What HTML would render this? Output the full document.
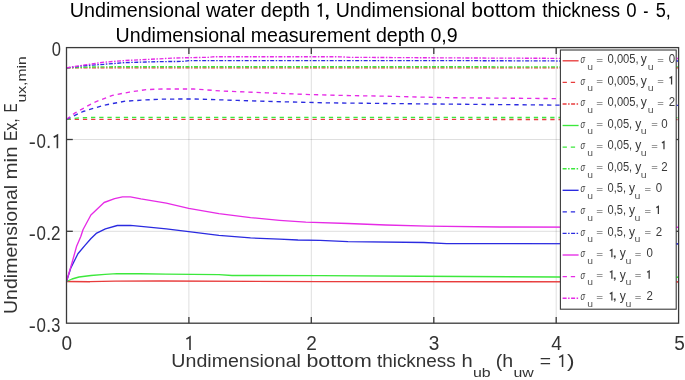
<!DOCTYPE html>
<html><head><meta charset="utf-8"><style>
html,body{margin:0;padding:0;background:#fff;width:685px;height:380px;overflow:hidden}
svg{display:block;font-family:"Liberation Sans",sans-serif;font-kerning:none;font-variant-ligatures:none;will-change:transform}
</style></head><body>
<svg width="685" height="380" viewBox="0 0 685 380">
<rect x="0" y="0" width="685" height="380" fill="#fff"/>
<line x1="188.9" y1="47.6" x2="188.9" y2="323.2" stroke="#262626" stroke-opacity="0.15" stroke-width="1"/>
<line x1="311.3" y1="47.6" x2="311.3" y2="323.2" stroke="#262626" stroke-opacity="0.15" stroke-width="1"/>
<line x1="433.8" y1="47.6" x2="433.8" y2="323.2" stroke="#262626" stroke-opacity="0.15" stroke-width="1"/>
<line x1="556.2" y1="47.6" x2="556.2" y2="323.2" stroke="#262626" stroke-opacity="0.15" stroke-width="1"/>
<line x1="66.5" y1="139.5" x2="678.6" y2="139.5" stroke="#262626" stroke-opacity="0.15" stroke-width="1"/>
<line x1="66.5" y1="231.3" x2="678.6" y2="231.3" stroke="#262626" stroke-opacity="0.15" stroke-width="1"/>
<polyline points="66.5,281.5 90.0,281.7 115.0,281.1 160.0,281.0 320.0,281.6 679.0,281.8" fill="none" stroke="#e83c3c" stroke-width="1.35" stroke-linejoin="round"  />
<polyline points="66.5,281.5 72.0,279.0 79.0,277.0 91.0,275.5 105.0,274.4 117.0,273.7 140.0,273.7 166.0,274.2 219.0,274.7 232.0,275.5 320.0,275.6 420.0,276.2 558.0,277.0 679.0,277.3" fill="none" stroke="#3ce83c" stroke-width="1.35" stroke-linejoin="round"  />
<polyline points="66.5,281.5 70.7,268.3 77.9,253.8 85.2,245.1 91.0,238.5 96.2,233.4 105.4,228.8 117.3,225.5 130.4,225.3 140.9,226.4 166.3,228.9 188.7,231.6 218.9,235.3 250.5,237.9 279.5,239.2 297.9,240.0 320.0,240.3 348.0,241.7 423.9,242.5 446.6,243.6 679.0,243.8" fill="none" stroke="#2b2be0" stroke-width="1.35" stroke-linejoin="round"  />
<polyline points="66.5,281.5 72.1,262.5 76.5,246.6 80.8,236.5 83.1,229.5 90.9,215.0 104.1,202.5 114.6,198.6 122.5,196.8 130.4,196.8 140.9,198.9 166.3,203.2 188.7,208.4 218.9,213.7 250.5,217.6 279.5,220.3 305.8,222.2 348.0,223.5 385.9,225.0 427.6,226.2 499.8,227.0 679.0,227.4" fill="none" stroke="#e62be6" stroke-width="1.35" stroke-linejoin="round"  />
<polyline points="66.5,119.3 300.0,119.4 679.0,119.5" fill="none" stroke="#e83c3c" stroke-width="1.35" stroke-linejoin="round" stroke-dasharray="4.3 3.9" />
<polyline points="66.5,119.3 80.0,117.8 100.0,117.3 400.0,117.4 679.0,117.6" fill="none" stroke="#3ce83c" stroke-width="1.35" stroke-linejoin="round" stroke-dasharray="4.3 3.9" />
<polyline points="66.5,119.3 83.0,111.5 104.1,105.2 125.2,101.2 146.2,99.9 162.0,99.1 193.8,99.0 237.6,100.4 275.5,101.6 325.2,102.8 350.0,103.1 414.3,103.8 555.8,105.1 679.0,105.3" fill="none" stroke="#2b2be0" stroke-width="1.35" stroke-linejoin="round" stroke-dasharray="4.3 3.9" />
<polyline points="66.5,119.3 74.6,113.2 93.6,102.6 112.5,95.3 129.4,92.1 146.2,89.6 162.0,89.0 193.8,89.0 223.0,91.1 266.8,92.8 310.6,94.6 350.0,95.6 382.0,96.1 446.5,97.7 555.8,98.6 676.0,98.8" fill="none" stroke="#e62be6" stroke-width="1.35" stroke-linejoin="round" stroke-dasharray="4.3 3.9" />
<polyline points="66.5,67.9 679.0,67.9" fill="none" stroke="#e83c3c" stroke-width="1.35" stroke-linejoin="round" stroke-dasharray="4 1.5 1.5 1.5" />
<polyline points="66.5,67.9 90.0,67.0 120.0,66.7 400.0,66.7 679.0,67.0" fill="none" stroke="#3ce83c" stroke-width="1.35" stroke-linejoin="round" stroke-dasharray="4 1.5 1.5 1.5" />
<polyline points="66.5,67.9 83.0,65.8 104.1,64.3 125.2,62.6 146.2,62.0 162.0,61.6 183.6,61.4 189.4,60.6 450.0,60.6 570.0,61.0 679.0,61.0" fill="none" stroke="#2b2be0" stroke-width="1.35" stroke-linejoin="round" stroke-dasharray="4 1.5 1.5 1.5" />
<polyline points="66.5,67.9 83.0,65.2 104.1,62.2 125.2,60.5 146.2,59.5 174.8,58.0 208.4,57.3 214.2,56.7 340.0,56.8 350.0,57.3 450.0,57.9 570.0,58.4 679.0,58.5" fill="none" stroke="#e62be6" stroke-width="1.35" stroke-linejoin="round" stroke-dasharray="4 1.5 1.5 1.5" />
<rect x="66.5" y="47.6" width="612.1" height="275.6" fill="none" stroke="#3a3a3a" stroke-width="1.3"/>
<line x1="188.9" y1="323.2" x2="188.9" y2="316.9" stroke="#3a3a3a" stroke-width="1.3"/>
<line x1="188.9" y1="47.6" x2="188.9" y2="53.9" stroke="#3a3a3a" stroke-width="1.3"/>
<line x1="311.3" y1="323.2" x2="311.3" y2="316.9" stroke="#3a3a3a" stroke-width="1.3"/>
<line x1="311.3" y1="47.6" x2="311.3" y2="53.9" stroke="#3a3a3a" stroke-width="1.3"/>
<line x1="433.8" y1="323.2" x2="433.8" y2="316.9" stroke="#3a3a3a" stroke-width="1.3"/>
<line x1="433.8" y1="47.6" x2="433.8" y2="53.9" stroke="#3a3a3a" stroke-width="1.3"/>
<line x1="556.2" y1="323.2" x2="556.2" y2="316.9" stroke="#3a3a3a" stroke-width="1.3"/>
<line x1="556.2" y1="47.6" x2="556.2" y2="53.9" stroke="#3a3a3a" stroke-width="1.3"/>
<line x1="66.5" y1="139.5" x2="72.8" y2="139.5" stroke="#3a3a3a" stroke-width="1.3"/>
<line x1="678.6" y1="139.5" x2="672.3000000000001" y2="139.5" stroke="#3a3a3a" stroke-width="1.3"/>
<line x1="66.5" y1="231.3" x2="72.8" y2="231.3" stroke="#3a3a3a" stroke-width="1.3"/>
<line x1="678.6" y1="231.3" x2="672.3000000000001" y2="231.3" stroke="#3a3a3a" stroke-width="1.3"/>
<rect x="560.4" y="50.0" width="115.8" height="259.2" fill="#fff" stroke="#3a3a3a" stroke-width="1.1"/>
<line x1="676.75" y1="58.5" x2="677.95" y2="58.5" stroke="#e62be6" stroke-width="1.35"/>
<line x1="676.75" y1="61.0" x2="677.95" y2="61.0" stroke="#2b2be0" stroke-width="1.35"/>
<line x1="676.75" y1="66.9" x2="677.95" y2="66.9" stroke="#3ce83c" stroke-width="1.35"/>
<line x1="676.75" y1="67.9" x2="677.95" y2="67.9" stroke="#e83c3c" stroke-width="1.35"/>
<line x1="676.75" y1="105.3" x2="677.95" y2="105.3" stroke="#2b2be0" stroke-width="1.35"/>
<line x1="676.75" y1="227.4" x2="677.95" y2="227.4" stroke="#e62be6" stroke-width="1.35"/>
<line x1="676.75" y1="243.8" x2="677.95" y2="243.8" stroke="#2b2be0" stroke-width="1.35"/>
<line x1="676.75" y1="277.2" x2="677.95" y2="277.2" stroke="#3ce83c" stroke-width="1.35"/>
<line x1="676.75" y1="281.8" x2="677.95" y2="281.8" stroke="#e83c3c" stroke-width="1.35"/>
<polyline points="562.6,60.8 578.6,60.8" fill="none" stroke="#e83c3c" stroke-width="1.35" stroke-linejoin="round"  />
<text x="580.55" y="63.00" font-size="11" fill="#3a3a3a" font-style="italic" textLength="4.61" lengthAdjust="spacingAndGlyphs" >σ</text>
<text x="587.33" y="69.60" font-size="9" fill="#555" textLength="5.76" lengthAdjust="spacingAndGlyphs" >u</text>
<text x="596.33" y="62.55" font-size="9" fill="#3a3a3a" textLength="6.85" lengthAdjust="spacingAndGlyphs" >=</text>
<text x="607.56" y="63.00" font-size="12" fill="#3a3a3a" textLength="31.14" lengthAdjust="spacingAndGlyphs" >0,005,</text>
<text x="640.77" y="63.00" font-size="12" fill="#3a3a3a" textLength="6.05" lengthAdjust="spacingAndGlyphs" >y</text>
<text x="647.71" y="69.60" font-size="9" fill="#555" textLength="5.89" lengthAdjust="spacingAndGlyphs" >u</text>
<text x="657.15" y="62.55" font-size="9" fill="#3a3a3a" textLength="6.61" lengthAdjust="spacingAndGlyphs" >=</text>
<text x="668.85" y="63.00" font-size="12" fill="#3a3a3a" textLength="6.40" lengthAdjust="spacingAndGlyphs">0</text>
<polyline points="562.6,82.4 578.6,82.4" fill="none" stroke="#e83c3c" stroke-width="1.35" stroke-linejoin="round" stroke-dasharray="4.3 3.9" />
<text x="580.55" y="84.58" font-size="11" fill="#3a3a3a" font-style="italic" textLength="4.61" lengthAdjust="spacingAndGlyphs" >σ</text>
<text x="587.33" y="91.18" font-size="9" fill="#555" textLength="5.76" lengthAdjust="spacingAndGlyphs" >u</text>
<text x="596.33" y="84.13" font-size="9" fill="#3a3a3a" textLength="6.85" lengthAdjust="spacingAndGlyphs" >=</text>
<text x="607.56" y="84.58" font-size="12" fill="#3a3a3a" textLength="31.14" lengthAdjust="spacingAndGlyphs" >0,005,</text>
<text x="640.77" y="84.58" font-size="12" fill="#3a3a3a" textLength="6.05" lengthAdjust="spacingAndGlyphs" >y</text>
<text x="647.71" y="91.18" font-size="9" fill="#555" textLength="5.89" lengthAdjust="spacingAndGlyphs" >u</text>
<text x="657.15" y="84.13" font-size="9" fill="#3a3a3a" textLength="6.61" lengthAdjust="spacingAndGlyphs" >=</text>
<polyline points="669.52,78.11 671.57,76.91 671.57,84.58" fill="none" stroke="#3a3a3a" stroke-width="1.25" stroke-linejoin="miter"/>
<polyline points="562.6,104.0 578.6,104.0" fill="none" stroke="#e83c3c" stroke-width="1.35" stroke-linejoin="round" stroke-dasharray="4 1.5 1.5 1.5" />
<text x="580.55" y="106.16" font-size="11" fill="#3a3a3a" font-style="italic" textLength="4.61" lengthAdjust="spacingAndGlyphs" >σ</text>
<text x="587.33" y="112.76" font-size="9" fill="#555" textLength="5.76" lengthAdjust="spacingAndGlyphs" >u</text>
<text x="596.33" y="105.71" font-size="9" fill="#3a3a3a" textLength="6.85" lengthAdjust="spacingAndGlyphs" >=</text>
<text x="607.56" y="106.16" font-size="12" fill="#3a3a3a" textLength="31.14" lengthAdjust="spacingAndGlyphs" >0,005,</text>
<text x="640.77" y="106.16" font-size="12" fill="#3a3a3a" textLength="6.05" lengthAdjust="spacingAndGlyphs" >y</text>
<text x="647.71" y="112.76" font-size="9" fill="#555" textLength="5.89" lengthAdjust="spacingAndGlyphs" >u</text>
<text x="657.15" y="105.71" font-size="9" fill="#3a3a3a" textLength="6.61" lengthAdjust="spacingAndGlyphs" >=</text>
<text x="668.85" y="106.16" font-size="12" fill="#3a3a3a" textLength="6.40" lengthAdjust="spacingAndGlyphs">2</text>
<polyline points="562.6,125.5 578.6,125.5" fill="none" stroke="#3ce83c" stroke-width="1.35" stroke-linejoin="round"  />
<text x="580.55" y="127.74" font-size="11" fill="#3a3a3a" font-style="italic" textLength="4.61" lengthAdjust="spacingAndGlyphs" >σ</text>
<text x="587.33" y="134.34" font-size="9" fill="#555" textLength="5.76" lengthAdjust="spacingAndGlyphs" >u</text>
<text x="596.33" y="127.29" font-size="9" fill="#3a3a3a" textLength="6.85" lengthAdjust="spacingAndGlyphs" >=</text>
<text x="607.57" y="127.74" font-size="12" fill="#3a3a3a" textLength="24.63" lengthAdjust="spacingAndGlyphs" >0,05,</text>
<text x="635.27" y="127.74" font-size="12" fill="#3a3a3a" textLength="6.05" lengthAdjust="spacingAndGlyphs" >y</text>
<text x="640.71" y="134.34" font-size="9" fill="#555" textLength="5.89" lengthAdjust="spacingAndGlyphs" >u</text>
<text x="651.15" y="127.29" font-size="9" fill="#3a3a3a" textLength="6.61" lengthAdjust="spacingAndGlyphs" >=</text>
<text x="661.25" y="127.74" font-size="12" fill="#3a3a3a" textLength="6.40" lengthAdjust="spacingAndGlyphs">0</text>
<polyline points="562.6,147.1 578.6,147.1" fill="none" stroke="#3ce83c" stroke-width="1.35" stroke-linejoin="round" stroke-dasharray="4.3 3.9" />
<text x="580.55" y="149.32" font-size="11" fill="#3a3a3a" font-style="italic" textLength="4.61" lengthAdjust="spacingAndGlyphs" >σ</text>
<text x="587.33" y="155.92" font-size="9" fill="#555" textLength="5.76" lengthAdjust="spacingAndGlyphs" >u</text>
<text x="596.33" y="148.87" font-size="9" fill="#3a3a3a" textLength="6.85" lengthAdjust="spacingAndGlyphs" >=</text>
<text x="607.57" y="149.32" font-size="12" fill="#3a3a3a" textLength="24.63" lengthAdjust="spacingAndGlyphs" >0,05,</text>
<text x="635.27" y="149.32" font-size="12" fill="#3a3a3a" textLength="6.05" lengthAdjust="spacingAndGlyphs" >y</text>
<text x="640.71" y="155.92" font-size="9" fill="#555" textLength="5.89" lengthAdjust="spacingAndGlyphs" >u</text>
<text x="651.15" y="148.87" font-size="9" fill="#3a3a3a" textLength="6.61" lengthAdjust="spacingAndGlyphs" >=</text>
<polyline points="661.92,142.85 663.97,141.64 663.97,149.32" fill="none" stroke="#3a3a3a" stroke-width="1.25" stroke-linejoin="miter"/>
<polyline points="562.6,168.7 578.6,168.7" fill="none" stroke="#3ce83c" stroke-width="1.35" stroke-linejoin="round" stroke-dasharray="4 1.5 1.5 1.5" />
<text x="580.55" y="170.90" font-size="11" fill="#3a3a3a" font-style="italic" textLength="4.61" lengthAdjust="spacingAndGlyphs" >σ</text>
<text x="587.33" y="177.50" font-size="9" fill="#555" textLength="5.76" lengthAdjust="spacingAndGlyphs" >u</text>
<text x="596.33" y="170.45" font-size="9" fill="#3a3a3a" textLength="6.85" lengthAdjust="spacingAndGlyphs" >=</text>
<text x="607.57" y="170.90" font-size="12" fill="#3a3a3a" textLength="24.63" lengthAdjust="spacingAndGlyphs" >0,05,</text>
<text x="635.27" y="170.90" font-size="12" fill="#3a3a3a" textLength="6.05" lengthAdjust="spacingAndGlyphs" >y</text>
<text x="640.71" y="177.50" font-size="9" fill="#555" textLength="5.89" lengthAdjust="spacingAndGlyphs" >u</text>
<text x="651.15" y="170.45" font-size="9" fill="#3a3a3a" textLength="6.61" lengthAdjust="spacingAndGlyphs" >=</text>
<text x="661.25" y="170.90" font-size="12" fill="#3a3a3a" textLength="6.40" lengthAdjust="spacingAndGlyphs">2</text>
<polyline points="562.6,190.3 578.6,190.3" fill="none" stroke="#2b2be0" stroke-width="1.35" stroke-linejoin="round"  />
<text x="580.55" y="192.48" font-size="11" fill="#3a3a3a" font-style="italic" textLength="4.61" lengthAdjust="spacingAndGlyphs" >σ</text>
<text x="587.33" y="199.08" font-size="9" fill="#555" textLength="5.76" lengthAdjust="spacingAndGlyphs" >u</text>
<text x="596.33" y="192.03" font-size="9" fill="#3a3a3a" textLength="6.85" lengthAdjust="spacingAndGlyphs" >=</text>
<text x="607.57" y="192.48" font-size="12" fill="#3a3a3a" textLength="18.42" lengthAdjust="spacingAndGlyphs" >0,5,</text>
<text x="629.07" y="192.48" font-size="12" fill="#3a3a3a" textLength="6.05" lengthAdjust="spacingAndGlyphs" >y</text>
<text x="634.61" y="199.08" font-size="9" fill="#555" textLength="5.89" lengthAdjust="spacingAndGlyphs" >u</text>
<text x="644.55" y="192.03" font-size="9" fill="#3a3a3a" textLength="6.61" lengthAdjust="spacingAndGlyphs" >=</text>
<text x="655.65" y="192.48" font-size="12" fill="#3a3a3a" textLength="6.40" lengthAdjust="spacingAndGlyphs">0</text>
<polyline points="562.6,211.9 578.6,211.9" fill="none" stroke="#2b2be0" stroke-width="1.35" stroke-linejoin="round" stroke-dasharray="4.3 3.9" />
<text x="580.55" y="214.06" font-size="11" fill="#3a3a3a" font-style="italic" textLength="4.61" lengthAdjust="spacingAndGlyphs" >σ</text>
<text x="587.33" y="220.66" font-size="9" fill="#555" textLength="5.76" lengthAdjust="spacingAndGlyphs" >u</text>
<text x="596.33" y="213.61" font-size="9" fill="#3a3a3a" textLength="6.85" lengthAdjust="spacingAndGlyphs" >=</text>
<text x="607.57" y="214.06" font-size="12" fill="#3a3a3a" textLength="18.42" lengthAdjust="spacingAndGlyphs" >0,5,</text>
<text x="629.07" y="214.06" font-size="12" fill="#3a3a3a" textLength="6.05" lengthAdjust="spacingAndGlyphs" >y</text>
<text x="634.61" y="220.66" font-size="9" fill="#555" textLength="5.89" lengthAdjust="spacingAndGlyphs" >u</text>
<text x="644.55" y="213.61" font-size="9" fill="#3a3a3a" textLength="6.61" lengthAdjust="spacingAndGlyphs" >=</text>
<polyline points="656.33,207.59 658.38,206.38 658.38,214.06" fill="none" stroke="#3a3a3a" stroke-width="1.25" stroke-linejoin="miter"/>
<polyline points="562.6,233.4 578.6,233.4" fill="none" stroke="#2b2be0" stroke-width="1.35" stroke-linejoin="round" stroke-dasharray="4 1.5 1.5 1.5" />
<text x="580.55" y="235.64" font-size="11" fill="#3a3a3a" font-style="italic" textLength="4.61" lengthAdjust="spacingAndGlyphs" >σ</text>
<text x="587.33" y="242.24" font-size="9" fill="#555" textLength="5.76" lengthAdjust="spacingAndGlyphs" >u</text>
<text x="596.33" y="235.19" font-size="9" fill="#3a3a3a" textLength="6.85" lengthAdjust="spacingAndGlyphs" >=</text>
<text x="607.57" y="235.64" font-size="12" fill="#3a3a3a" textLength="18.42" lengthAdjust="spacingAndGlyphs" >0,5,</text>
<text x="629.07" y="235.64" font-size="12" fill="#3a3a3a" textLength="6.05" lengthAdjust="spacingAndGlyphs" >y</text>
<text x="634.61" y="242.24" font-size="9" fill="#555" textLength="5.89" lengthAdjust="spacingAndGlyphs" >u</text>
<text x="644.55" y="235.19" font-size="9" fill="#3a3a3a" textLength="6.61" lengthAdjust="spacingAndGlyphs" >=</text>
<text x="655.65" y="235.64" font-size="12" fill="#3a3a3a" textLength="6.40" lengthAdjust="spacingAndGlyphs">2</text>
<polyline points="562.6,255.0 578.6,255.0" fill="none" stroke="#e62be6" stroke-width="1.35" stroke-linejoin="round"  />
<text x="580.55" y="257.22" font-size="11" fill="#3a3a3a" font-style="italic" textLength="4.61" lengthAdjust="spacingAndGlyphs" >σ</text>
<text x="587.33" y="263.82" font-size="9" fill="#555" textLength="5.76" lengthAdjust="spacingAndGlyphs" >u</text>
<text x="596.33" y="256.77" font-size="9" fill="#3a3a3a" textLength="6.85" lengthAdjust="spacingAndGlyphs" >=</text>
<polyline points="609.83,250.75 611.88,249.54 611.88,257.22" fill="none" stroke="#3a3a3a" stroke-width="1.25" stroke-linejoin="miter"/>
<text x="611.96" y="257.22" font-size="12" fill="#3a3a3a" textLength="5.38" lengthAdjust="spacingAndGlyphs" >,</text>
<text x="619.87" y="257.22" font-size="12" fill="#3a3a3a" textLength="6.05" lengthAdjust="spacingAndGlyphs" >y</text>
<text x="625.41" y="263.82" font-size="9" fill="#555" textLength="5.89" lengthAdjust="spacingAndGlyphs" >u</text>
<text x="634.85" y="256.77" font-size="9" fill="#3a3a3a" textLength="6.61" lengthAdjust="spacingAndGlyphs" >=</text>
<text x="646.45" y="257.22" font-size="12" fill="#3a3a3a" textLength="6.40" lengthAdjust="spacingAndGlyphs">0</text>
<polyline points="562.6,276.6 578.6,276.6" fill="none" stroke="#e62be6" stroke-width="1.35" stroke-linejoin="round" stroke-dasharray="4.3 3.9" />
<text x="580.55" y="278.80" font-size="11" fill="#3a3a3a" font-style="italic" textLength="4.61" lengthAdjust="spacingAndGlyphs" >σ</text>
<text x="587.33" y="285.40" font-size="9" fill="#555" textLength="5.76" lengthAdjust="spacingAndGlyphs" >u</text>
<text x="596.33" y="278.35" font-size="9" fill="#3a3a3a" textLength="6.85" lengthAdjust="spacingAndGlyphs" >=</text>
<polyline points="609.83,272.33 611.88,271.12 611.88,278.80" fill="none" stroke="#3a3a3a" stroke-width="1.25" stroke-linejoin="miter"/>
<text x="611.96" y="278.80" font-size="12" fill="#3a3a3a" textLength="5.38" lengthAdjust="spacingAndGlyphs" >,</text>
<text x="619.87" y="278.80" font-size="12" fill="#3a3a3a" textLength="6.05" lengthAdjust="spacingAndGlyphs" >y</text>
<text x="625.41" y="285.40" font-size="9" fill="#555" textLength="5.89" lengthAdjust="spacingAndGlyphs" >u</text>
<text x="634.85" y="278.35" font-size="9" fill="#3a3a3a" textLength="6.61" lengthAdjust="spacingAndGlyphs" >=</text>
<polyline points="647.12,272.33 649.17,271.12 649.17,278.80" fill="none" stroke="#3a3a3a" stroke-width="1.25" stroke-linejoin="miter"/>
<polyline points="562.6,298.2 578.6,298.2" fill="none" stroke="#e62be6" stroke-width="1.35" stroke-linejoin="round" stroke-dasharray="4 1.5 1.5 1.5" />
<text x="580.55" y="300.38" font-size="11" fill="#3a3a3a" font-style="italic" textLength="4.61" lengthAdjust="spacingAndGlyphs" >σ</text>
<text x="587.33" y="306.98" font-size="9" fill="#555" textLength="5.76" lengthAdjust="spacingAndGlyphs" >u</text>
<text x="596.33" y="299.93" font-size="9" fill="#3a3a3a" textLength="6.85" lengthAdjust="spacingAndGlyphs" >=</text>
<polyline points="609.83,293.91 611.88,292.70 611.88,300.38" fill="none" stroke="#3a3a3a" stroke-width="1.25" stroke-linejoin="miter"/>
<text x="611.96" y="300.38" font-size="12" fill="#3a3a3a" textLength="5.38" lengthAdjust="spacingAndGlyphs" >,</text>
<text x="619.87" y="300.38" font-size="12" fill="#3a3a3a" textLength="6.05" lengthAdjust="spacingAndGlyphs" >y</text>
<text x="625.41" y="306.98" font-size="9" fill="#555" textLength="5.89" lengthAdjust="spacingAndGlyphs" >u</text>
<text x="634.85" y="299.93" font-size="9" fill="#3a3a3a" textLength="6.61" lengthAdjust="spacingAndGlyphs" >=</text>
<text x="646.45" y="300.38" font-size="12" fill="#3a3a3a" textLength="6.40" lengthAdjust="spacingAndGlyphs">2</text>
<text x="61.52" y="350.00" font-size="20" fill="#333" textLength="10.57" lengthAdjust="spacingAndGlyphs" >0</text>
<polyline points="186.40,339.10 190.00,337.00 190.00,350.00" fill="none" stroke="#333" stroke-width="1.6" stroke-linejoin="miter"/>
<text x="306.36" y="350.00" font-size="20" fill="#333" textLength="10.57" lengthAdjust="spacingAndGlyphs" >2</text>
<text x="428.83" y="350.00" font-size="20" fill="#333" textLength="10.57" lengthAdjust="spacingAndGlyphs" >3</text>
<text x="551.26" y="350.00" font-size="20" fill="#333" textLength="10.57" lengthAdjust="spacingAndGlyphs" >4</text>
<text x="674.24" y="350.00" font-size="20" fill="#333" textLength="10.57" lengthAdjust="spacingAndGlyphs" >5</text>
<text x="51.65" y="56.10" font-size="20" fill="#333" textLength="9.19" lengthAdjust="spacingAndGlyphs" >0</text>
<text x="28.65" y="148.90" font-size="20" fill="#333" textLength="7.09" lengthAdjust="spacingAndGlyphs" >-</text>
<text x="36.44" y="148.20" font-size="20" fill="#333" textLength="9.42" lengthAdjust="spacingAndGlyphs" >0</text>
<text x="45.97" y="148.20" font-size="20" fill="#333" textLength="5.25" lengthAdjust="spacingAndGlyphs" >.</text>
<polyline points="53.70,137.30 57.40,135.20 57.40,148.20" fill="none" stroke="#333" stroke-width="1.6" stroke-linejoin="miter"/>
<text x="28.65" y="240.70" font-size="20" fill="#333" textLength="7.09" lengthAdjust="spacingAndGlyphs" >-</text>
<text x="36.44" y="240.00" font-size="20" fill="#333" textLength="9.42" lengthAdjust="spacingAndGlyphs" >0</text>
<text x="45.97" y="240.00" font-size="20" fill="#333" textLength="5.25" lengthAdjust="spacingAndGlyphs" >.</text>
<text x="51.04" y="240.00" font-size="20" fill="#333" textLength="9.52" lengthAdjust="spacingAndGlyphs" >2</text>
<text x="28.65" y="332.60" font-size="20" fill="#333" textLength="7.09" lengthAdjust="spacingAndGlyphs" >-</text>
<text x="36.44" y="331.90" font-size="20" fill="#333" textLength="9.42" lengthAdjust="spacingAndGlyphs" >0</text>
<text x="45.97" y="331.90" font-size="20" fill="#333" textLength="5.25" lengthAdjust="spacingAndGlyphs" >.</text>
<text x="51.17" y="331.90" font-size="20" fill="#333" textLength="9.15" lengthAdjust="spacingAndGlyphs" >3</text>
<text x="69.78" y="16.70" font-size="19.3" fill="#000" textLength="130.54" lengthAdjust="spacingAndGlyphs" >Undimensional</text>
<text x="205.93" y="16.70" font-size="19.3" fill="#000" textLength="49.41" lengthAdjust="spacingAndGlyphs" >water</text>
<text x="260.67" y="16.70" font-size="19.3" fill="#000" textLength="49.41" lengthAdjust="spacingAndGlyphs" >depth</text>
<text x="323.62" y="16.70" font-size="19.3" fill="#000" textLength="7.36" lengthAdjust="spacingAndGlyphs" >,</text>
<text x="335.69" y="16.70" font-size="19.3" fill="#000" textLength="129.42" lengthAdjust="spacingAndGlyphs" >Undimensional</text>
<text x="471.24" y="16.70" font-size="19.3" fill="#000" textLength="64.55" lengthAdjust="spacingAndGlyphs" >bottom</text>
<text x="542.32" y="16.70" font-size="19.3" fill="#000" textLength="77.76" lengthAdjust="spacingAndGlyphs" >thickness</text>
<text x="626.17" y="16.70" font-size="19.3" fill="#000" textLength="10.35" lengthAdjust="spacingAndGlyphs" >0</text>
<text x="643.31" y="17.50" font-size="19.3" fill="#000" textLength="5.18" lengthAdjust="spacingAndGlyphs" >-</text>
<text x="655.67" y="16.70" font-size="19.3" fill="#000" textLength="15.16" lengthAdjust="spacingAndGlyphs" >5,</text>
<polyline points="317.70,6.40 321.00,4.30 321.00,16.70" fill="none" stroke="#000" stroke-width="1.6" stroke-linejoin="miter"/>
<text x="115.59" y="42.10" font-size="19.3" fill="#000" textLength="342.14" lengthAdjust="spacingAndGlyphs" >Undimensional measurement depth 0,9</text>
<text x="171.39" y="367.00" font-size="18.3" fill="#333" textLength="129.52" lengthAdjust="spacingAndGlyphs" >Undimensional</text>
<text x="306.42" y="367.00" font-size="18.3" fill="#333" textLength="65.39" lengthAdjust="spacingAndGlyphs" >bottom</text>
<text x="377.01" y="367.00" font-size="18.3" fill="#333" textLength="78.67" lengthAdjust="spacingAndGlyphs" >thickness</text>
<text x="461.60" y="367.00" font-size="18.3" fill="#333" textLength="11.21" lengthAdjust="spacingAndGlyphs" >h</text>
<text x="472.97" y="377.30" font-size="13" fill="#333" textLength="17.70" lengthAdjust="spacingAndGlyphs" >ub</text>
<text x="495.79" y="367.00" font-size="18.3" fill="#333" textLength="17.38" lengthAdjust="spacingAndGlyphs" >(h</text>
<text x="513.47" y="377.30" font-size="13" fill="#333" textLength="20.29" lengthAdjust="spacingAndGlyphs" >uw</text>
<text x="539.86" y="366.70" font-size="17.8" fill="#333" textLength="11.30" lengthAdjust="spacingAndGlyphs" >=</text>
<polyline points="559.15,357.33 562.55,355.35 562.55,367.00" fill="none" stroke="#333" stroke-width="1.5" stroke-linejoin="miter"/>
<text x="567.07" y="367.00" font-size="17.8" fill="#333" textLength="7.54" lengthAdjust="spacingAndGlyphs" >)</text>
<g transform="rotate(-90)">
<text x="-314.01" y="17.30" font-size="19.2" fill="#333" textLength="129.21" lengthAdjust="spacingAndGlyphs" >Undimensional</text>
<text x="-179.56" y="17.30" font-size="19.2" fill="#333" textLength="33.10" lengthAdjust="spacingAndGlyphs" >min</text>
<text x="-140.88" y="17.30" font-size="19.2" fill="#333" textLength="22.59" lengthAdjust="spacingAndGlyphs" >Ex,</text>
<text x="-112.19" y="17.30" font-size="19.2" fill="#333" textLength="8.86" lengthAdjust="spacingAndGlyphs" >E</text>
<text x="-102.52" y="26.20" font-size="13" fill="#333" textLength="46.24" lengthAdjust="spacingAndGlyphs" >ux,min</text>
</g>
</svg></body></html>
